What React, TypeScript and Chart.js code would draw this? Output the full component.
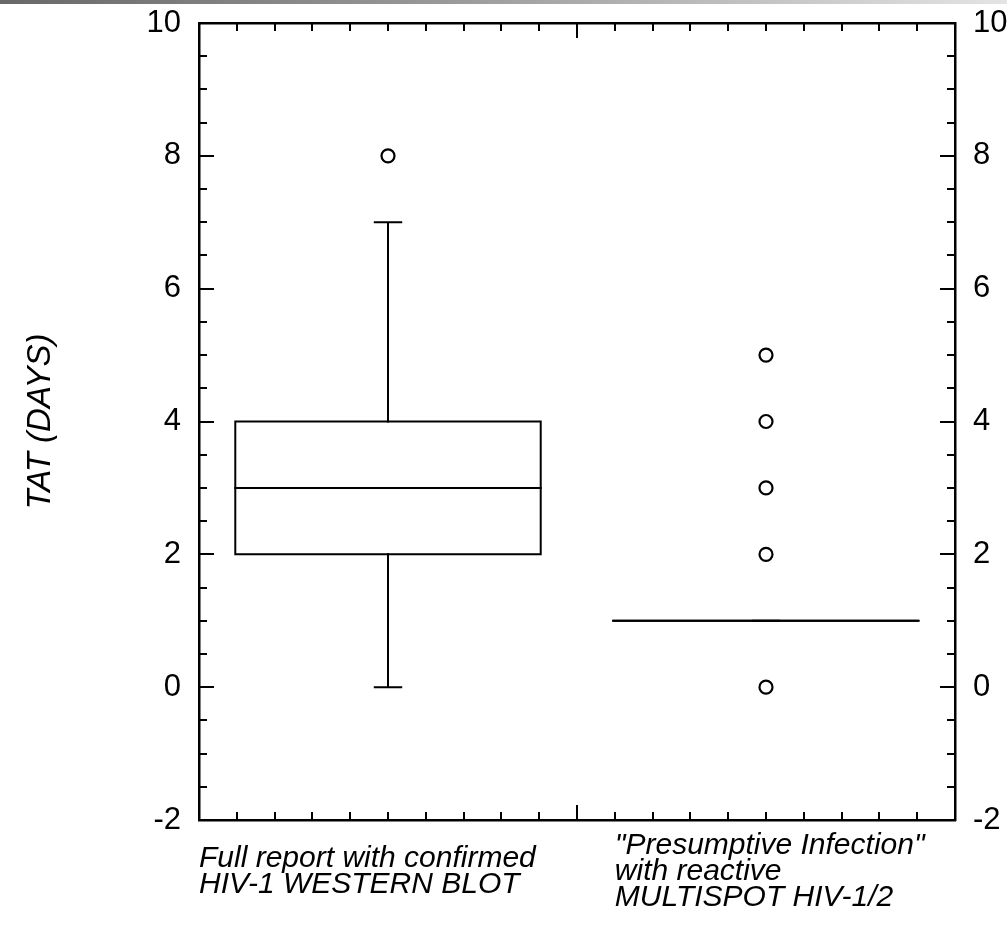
import React, { useEffect, useRef } from 'react';
import { Chart, registerables } from 'chart.js';

Chart.register(...registerables);

// ---------------- data ----------------
const categoryLabels: string[][] = [
  ['Full report with confirmed', 'HIV-1 WESTERN BLOT'],
  ['"Presumptive Infection"', 'with reactive', 'MULTISPOT HIV-1/2'],
];
const whiskerLow = [0, 1];
const q1 = [2, 1];
const median = [3, 1];
const q3 = [4, 1];
const whiskerHigh = [7, 1];
const outliers: number[][] = [[8], [0, 2, 3, 4, 5]];

const yMin = -2;
const yMax = 10;
const yMajorStep = 2;
const yMinorStep = 0.5;
const xMin = 0;
const xMax = 2;
const xMinorStep = 0.1;
const xMajorValues = [1];

// ---------------- layout / style constants ----------------
const BOX_HALF = 0.404;
const CAP_HALF = 0.035;
const LABEL_ANCHORS = [0.0, 1.1];
const FONT = '"Liberation Sans", Arial, Helvetica, sans-serif';

function buildDatasets() {
  const box: any[] = [];
  const med: any[] = [];
  const whisk: any[] = [];
  const outs: any[] = [];
  categoryLabels.forEach((_, i) => {
    const c = i + 0.5;
    box.push(
      { x: c - BOX_HALF, y: q1[i] },
      { x: c + BOX_HALF, y: q1[i] },
      { x: c + BOX_HALF, y: q3[i] },
      { x: c - BOX_HALF, y: q3[i] },
      { x: c - BOX_HALF, y: q1[i] },
      { x: c, y: null }
    );
    med.push({ x: c - BOX_HALF, y: median[i] }, { x: c + BOX_HALF, y: median[i] }, { x: c, y: null });
    whisk.push(
      { x: c, y: q3[i] },
      { x: c, y: whiskerHigh[i] },
      { x: c, y: null },
      { x: c - CAP_HALF, y: whiskerHigh[i] },
      { x: c + CAP_HALF, y: whiskerHigh[i] },
      { x: c, y: null },
      { x: c, y: q1[i] },
      { x: c, y: whiskerLow[i] },
      { x: c, y: null },
      { x: c - CAP_HALF, y: whiskerLow[i] },
      { x: c + CAP_HALF, y: whiskerLow[i] },
      { x: c, y: null }
    );
    outliers[i].forEach((v) => outs.push({ x: c, y: v }));
  });
  const lineStyle = {
    showLine: true,
    borderColor: '#000',
    borderWidth: 2,
    pointRadius: 0,
    spanGaps: false,
    tension: 0,
    borderJoinStyle: 'miter',
    borderCapStyle: 'square',
    xAxisID: 'x',
    yAxisID: 'y',
  };
  return [
    { label: 'box', data: box, ...lineStyle },
    { label: 'median', data: med, ...lineStyle },
    { label: 'whiskers', data: whisk, ...lineStyle },
    {
      label: 'outliers',
      data: outs,
      showLine: false,
      pointRadius: 6.5,
      pointBorderWidth: 2.2,
      pointBackgroundColor: '#fff',
      pointBorderColor: '#000',
      xAxisID: 'x',
      yAxisID: 'y',
    },
  ];
}

const innerTicks = {
  id: 'innerTicks',
  afterDatasetsDraw(chart: any) {
    const { ctx, chartArea: a, scales } = chart;
    const xs = scales.x;
    const ys = scales.y;
    ctx.save();
    ctx.strokeStyle = '#000';
    ctx.lineWidth = 2;
    ctx.beginPath();
    const nx = Math.round((xMax - xMin) / xMinorStep);
    for (let k = 1; k < nx; k++) {
      const v = xMin + k * xMinorStep;
      const px = Math.round(xs.getPixelForValue(v));
      const major = xMajorValues.some((m) => Math.abs(m - v) < 1e-6);
      const len = major ? 15 : 8;
      ctx.moveTo(px, a.top);
      ctx.lineTo(px, a.top + len);
      ctx.moveTo(px, a.bottom);
      ctx.lineTo(px, a.bottom - len);
    }
    const ny = Math.round((yMax - yMin) / yMinorStep);
    for (let k = 1; k < ny; k++) {
      const v = yMin + k * yMinorStep;
      const py = Math.round(ys.getPixelForValue(v));
      const major = Math.abs(((v - yMin) / yMajorStep) - Math.round((v - yMin) / yMajorStep)) < 1e-6;
      const len = major ? 15 : 8;
      ctx.moveTo(a.left, py);
      ctx.lineTo(a.left + len, py);
      ctx.moveTo(a.right, py);
      ctx.lineTo(a.right - len, py);
    }
    ctx.stroke();
    ctx.restore();
  },
};

function fixSize(w?: number, h?: number) {
  return (scale: any) => {
    if (w !== undefined) scale.width = w;
    if (h !== undefined) scale.height = h;
    scale.paddingLeft = 0;
    scale.paddingRight = 0;
    scale.paddingTop = 0;
    scale.paddingBottom = 0;
  };
}

export default function App() {
  const ref = useRef<HTMLCanvasElement | null>(null);
  useEffect(() => {
    if (!ref.current) return;
    const border = { display: true, color: '#000', width: 2.5 };
    const yTicks = {
      stepSize: yMajorStep,
      color: '#000',
      padding: 18,
      font: { family: FONT, size: 31 },
    };
    const chart = new Chart(ref.current, {
      type: 'scatter',
      data: { datasets: buildDatasets() as any },
      plugins: [innerTicks],
      options: {
        animation: false,
        responsive: false,
        events: [],
        layout: { padding: 0 },
        plugins: { legend: { display: false }, tooltip: { enabled: false } },
        scales: {
          x: {
            type: 'linear',
            position: 'bottom',
            min: xMin,
            max: xMax,
            afterBuildTicks: (scale: any) => {
              scale.ticks = LABEL_ANCHORS.map((v) => ({ value: v }));
            },
            afterFit: fixSize(undefined, 113),
            grid: { display: false, drawTicks: true, tickLength: 24 },
            border,
            ticks: {
              autoSkip: false,
              maxRotation: 0,
              minRotation: 0,
              align: 'start',
              crossAlign: 'center',
              padding: 2,
              color: '#000',
              font: { family: FONT, size: 30, style: 'italic', lineHeight: '26px' } as any,
              callback: (_v: any, i: number) => categoryLabels[i],
            },
          },
          xTop: {
            type: 'linear',
            position: 'top',
            min: xMin,
            max: xMax,
            afterFit: fixSize(undefined, 23),
            grid: { display: false, drawTicks: false },
            border,
            ticks: { display: false },
          },
          y: {
            type: 'linear',
            position: 'left',
            min: yMin,
            max: yMax,
            afterFit: fixSize(199, undefined),
            grid: { display: false, drawTicks: false },
            border,
            ticks: yTicks,
            title: {
              display: true,
              text: 'TAT (DAYS)',
              color: '#000',
              font: { family: FONT, size: 33, style: 'italic' },
              padding: { top: 21, bottom: 0 },
            },
          },
          yRight: {
            type: 'linear',
            position: 'right',
            min: yMin,
            max: yMax,
            afterFit: fixSize(52, undefined),
            grid: { display: false, drawTicks: false },
            border,
            ticks: yTicks,
          },
        },
      } as any,
    });
    return () => chart.destroy();
  }, []);

  return (
    <div style={{ position: 'absolute', left: 0, top: 0, width: 1007, height: 933, background: '#fff' }}>
      <canvas ref={ref} width={1007} height={933} style={{ display: 'block' }} />
      <div
        style={{
          position: 'absolute',
          left: 0,
          top: 0,
          width: 1007,
          height: 4,
          background: 'linear-gradient(to right, #686868, #9a9a9a 45%, #e4e4e4)',
        }}
      />
    </div>
  );
}
